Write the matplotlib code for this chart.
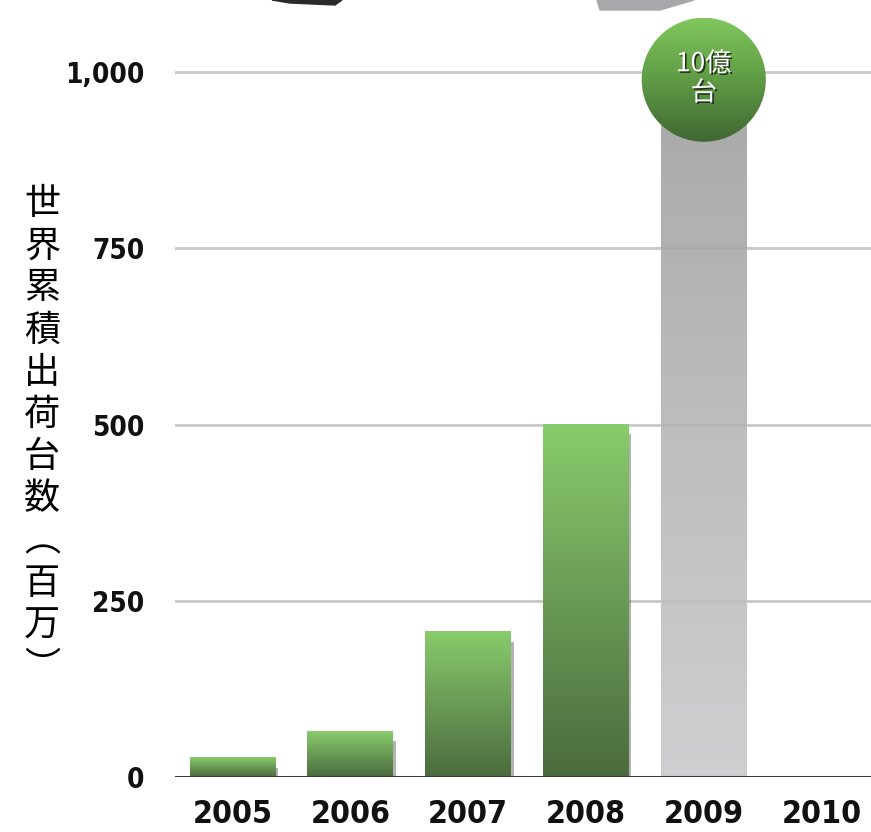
import numpy as np
import matplotlib.pyplot as plt
from matplotlib.colors import LinearSegmentedColormap
from matplotlib.patches import Ellipse, Rectangle, Polygon
import matplotlib.patheffects as pe

years = ["2005", "2006", "2007", "2008", "2009", "2010"]
shipments = [27, 65, 206, 500, 1000, 0]     # 百万台
forecast = [False, False, False, False, True, False]
yticks = [0, 250, 500, 750, 1000]
ytick_labels = ["0", "250", "500", "750", "1,000"]
ylabel_chars = list("世界累積出荷台数︵百万︶")
badge_text = "10億\n台"

green = LinearSegmentedColormap.from_list("g", ["#4b6b3e", "#6a9a55", "#88cc6c"])
gray = LinearSegmentedColormap.from_list("k", ["#c9c9cb", "#b4b4b4", "#9c9c9c"])
badge = LinearSegmentedColormap.from_list("b", ["#3f6732", "#5f9a45", "#80c75c"])

fig = plt.figure(figsize=(8.71, 8.32), dpi=100)
px_w, px_h = 871, 832
y0_px, y1000_px = 777, 72
ppu = (y0_px - y1000_px) / 1000.0
ytop = y0_px / ppu   # axes reaches the top of the figure
ax = fig.add_axes([175 / px_w, (px_h - y0_px) / px_h, 1 - 175 / px_w, y0_px / px_h])

xmin, xmax = -0.49, 5.42
ax.set_xlim(xmin, xmax)
ax.set_ylim(0, ytop)
for s in ax.spines.values():
    s.set_visible(False)

for t in yticks[1:]:
    ax.axhline(t, color="#c8c8c8", lw=2, zorder=1)
ax.axhline(0, color="#3c3c3c", lw=2.2, zorder=6)

w = 0.73
grad = np.linspace(0, 1, 256).reshape(-1, 1)
for i, (v, f) in enumerate(zip(shipments, forecast)):
    if v <= 0:
        continue
    if f:
        ax.imshow(grad, extent=[i - w / 2, i + w / 2, 0, v], origin="lower",
                  cmap=gray, aspect="auto", zorder=3, alpha=0.88)
    else:
        ax.add_patch(Rectangle((i - w / 2 + 0.02, 0), w, v - 14, color="#555555",
                               alpha=0.45, lw=0, zorder=2))
        ax.imshow(grad, extent=[i - w / 2, i + w / 2, 0, v], origin="lower",
                  cmap=green, aspect="auto", zorder=2.5)

# badge on the 2009 bar
bi = forecast.index(True)
r_px = 62
cy = shipments[bi] - 11
ell = Ellipse((bi, cy), 2 * r_px / 117.6, 2 * r_px / ppu, facecolor="none",
              edgecolor="none", zorder=7)
ax.add_patch(ell)
bim = ax.imshow(grad, extent=[bi - 0.6, bi + 0.6, cy - r_px / ppu, cy + r_px / ppu],
                origin="lower", cmap=badge, aspect="auto", zorder=7)
bim.set_clip_path(ell)
ax.text(bi, cy + 2, badge_text, ha="center", va="center", color="white",
        fontsize=19, family=["Noto Sans CJK JP", "DejaVu Sans"], linespacing=1.1,
        zorder=8, path_effects=[pe.withSimplePatchShadow(offset=(1.2, -1.2),
                                                         shadow_rgbFace="#1a2a14", alpha=0.9)])

ax.set_xlim(xmin, xmax)
ax.set_ylim(0, ytop)

ax.set_yticks(yticks)
ax.set_yticklabels(ytick_labels)
ax.set_xticks(range(len(years)))
ax.set_xticklabels(years)
ax.tick_params(length=0)
ax.tick_params(axis="y", pad=22)
ax.tick_params(axis="x", pad=16)
for lab in ax.get_yticklabels():
    lab.set_fontfamily("DejaVu Sans")
    lab.set_fontstretch("condensed")
    lab.set_fontweight("bold")
    lab.set_fontsize(20)
    lab.set_color("#111111")
for lab in ax.get_xticklabels():
    lab.set_fontfamily("DejaVu Sans")
    lab.set_fontstretch("condensed")
    lab.set_fontweight("bold")
    lab.set_fontsize(23)
    lab.set_color("#111111")

fig.text(42 / px_w, 1 - 436 / px_h, "\n".join(ylabel_chars), ha="center", va="center",
         fontsize=26, family=["Noto Sans CJK JP", "DejaVu Sans"], linespacing=1.22)

# cropped decorative pieces at the top edge
fig.patches.append(Polygon([[272 / px_w, 1], [342 / px_w, 1], [335 / px_w, 1 - 5 / px_h],
                            [290 / px_w, 1 - 3 / px_h]], closed=True, color="#2a2a2a",
                           transform=fig.transFigure, figure=fig))
fig.patches.append(Polygon([[597 / px_w, 1], [694 / px_w, 1], [660 / px_w, 1 - 10 / px_h],
                            [600 / px_w, 1 - 10 / px_h]], closed=True, color="#a8a8aa",
                           transform=fig.transFigure, figure=fig))

fig.savefig("out.png", dpi=100)
